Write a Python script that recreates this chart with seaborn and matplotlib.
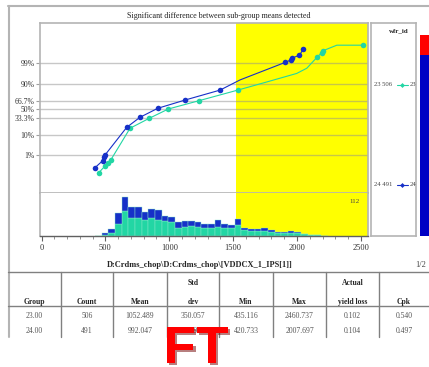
import math

import matplotlib

matplotlib.use("Agg")
import matplotlib.patheffects as pe
import matplotlib.pyplot as plt
import numpy as np
import pandas as pd
import seaborn as sns
from matplotlib.ticker import FixedLocator, MultipleLocator, NullLocator


W, H = 429, 367

TITLE = "Significant difference between sub-group means detected"
X_LABEL = "D:Crdms_chop\\D:Crdms_chop\\[VDDCX_1_IPS[1]]"
PAGE = "1/2"
GROUPS = ["23", "24"]
GROUP_COUNTS = [506, 491]
COLORS = {"23": "#22d6a4", "24": "#1630c8"}

# normal probability plot (value, cumulative %)
VALUES_23 = [450, 497, 521, 542, 693, 844, 993, 1233, 1539, 1735, 1998, 2077, 2160, 2194, 2207, 2312, 2520]
PCT_23 = [0.07, 0.21, 0.35, 0.52, 16.9, 32.5, 50.6, 66.8, 83.5, 90.8, 96.5, 98.1, 99.6, 99.79, 99.85, 99.94, 99.94]
MARK_23 = [1, 1, 1, 1, 1, 1, 1, 1, 1, 0, 0, 0, 1, 1, 1, 0, 1]

VALUES_24 = [419, 479, 489, 497, 667, 771, 910, 1124, 1398, 1554, 1685, 1790, 1906, 1951, 1959, 2019, 2050]
PCT_24 = [0.16, 0.47, 0.84, 1.04, 18.1, 34.3, 52.0, 68.0, 83.4, 93.1, 96.5, 98.1, 99.1, 99.36, 99.5, 99.69, 99.88]
MARK_24 = [1, 1, 1, 1, 1, 1, 1, 1, 1, 0, 0, 0, 1, 1, 1, 1, 1]

PROB_TICKS = [1, 10, 33.3, 50, 66.7, 90, 99]
PROB_LABELS = ["1%", "10%", "33.3%", "50%", "66.7%", "90%", "99%"]

# histogram, bins of 52 starting at 420
BIN_START = 420
BIN_WIDTH = 52
COUNTS_23 = [0, 2, 7, 26, 57, 41, 40, 37, 40, 36, 34, 32, 19, 21, 23, 21, 18, 17,
             21, 17, 17, 25, 13, 11, 11, 12, 9, 7, 6, 6, 6, 5, 3, 3, 1]
COUNTS_24 = [1, 5, 9, 27, 31, 25, 25, 18, 22, 23, 11, 10, 12, 13, 11, 11, 9, 10,
             14, 10, 8, 13, 5, 5, 4, 6, 4, 2, 2, 5, 2, 0, 0, 0, 0]
SPEC_START = 1520
SPEC_LABEL = "112"

YIELD_SHARES = [0.9, 0.1]
YIELD_COLORS = ["#0000c4", "#ff0000"]

TABLE_HEADERS = ["Group", "Count", "Mean", "Std\ndev", "Min", "Max", "Actual\nyield loss", "Cpk"]
ROW_23 = ["23.00", "506", "1052.489", "350.057", "435.116", "2460.737", "0.102", "0.540"]
ROW_24 = ["24.00", "491", "992.047", "343.912", "420.733", "2007.697", "0.104", "0.497"]
COL_EDGES = [8, 61, 113, 167, 219, 273, 326, 379, 429]

STAMP = "FT"


def norm_ppf(pct):
    p = np.clip(np.asarray(pct, dtype=float) / 100.0, 1e-12, 1 - 1e-12)
    a = [-3.969683028665376e01, 2.209460984245205e02, -2.759285104469687e02,
         1.383577518672690e02, -3.066479806614716e01, 2.506628277459239e00]
    b = [-5.447609879822406e01, 1.615858368580409e02, -1.556989798598866e02,
         6.680131188771972e01, -1.328068155288572e01]
    c = [-7.784894002430293e-03, -3.223964580411365e-01, -2.400758277161838e00,
         -2.549671070381386e00, 4.374664141464968e00, 2.938163982698783e00]
    d = [7.784695709041462e-03, 3.224671290700398e-01, 2.445134137142996e00,
         3.754408661907416e00]

    def tail(q):
        num = ((((c[0] * q + c[1]) * q + c[2]) * q + c[3]) * q + c[4]) * q + c[5]
        den = (((d[0] * q + d[1]) * q + d[2]) * q + d[3]) * q + 1
        return num / den

    q = p - 0.5
    r = q * q
    central = ((((((a[0] * r + a[1]) * r + a[2]) * r + a[3]) * r + a[4]) * r + a[5]) * q
               / (((((b[0] * r + b[1]) * r + b[2]) * r + b[3]) * r + b[4]) * r + 1))
    low = tail(np.sqrt(-2 * np.log(p)))
    high = -tail(np.sqrt(-2 * np.log(1 - p)))
    return np.where(p < 0.02425, low, np.where(p > 1 - 0.02425, high, central))


_erf = np.vectorize(math.erf)


def norm_cdf(z):
    return 50.0 * (1.0 + _erf(np.asarray(z, dtype=float) / math.sqrt(2.0)))


def box(x0, y0, x1, y1):
    return [x0 / W, 1 - y1 / H, (x1 - x0) / W, (y1 - y0) / H]


def main() -> None:
    sns.set_style("white")
    plt.rcParams["font.family"] = ["Liberation Serif", "DejaVu Serif"]

    fig = plt.figure(figsize=(W / 100, H / 100), dpi=100)
    frame = "#b4b4b4"

    # background layer in pixel coordinates: frames, title, table
    bg = fig.add_axes([0, 0, 1, 1], zorder=0)
    bg.set_xlim(0, W)
    bg.set_ylim(H, 0)
    bg.axis("off")
    bg.plot([8.5, 8.5], [6, 337], color=frame, lw=1.5)
    bg.plot([8, W], [6, 6], color=frame, lw=1.5)
    bg.plot([8, W], [271.5, 271.5], color="#808080", lw=1)
    bg.plot([8, W], [306, 306], color="#808080", lw=1)
    for x in COL_EDGES[1:-1]:
        bg.plot([x, x], [271.5, 337], color="#808080", lw=1)
    bg.text(219, 16, TITLE, fontsize=5.8, color="#222222", ha="center", va="center")
    bg.text(200, 265, X_LABEL, fontsize=6, fontweight="bold", ha="center", va="center")
    bg.text(421, 265, PAGE, fontsize=6, color="#444444", ha="center", va="center")

    centers = [(COL_EDGES[i] + COL_EDGES[i + 1]) / 2 for i in range(len(COL_EDGES) - 1)]
    for cx, header in zip(centers, TABLE_HEADERS):
        lines = header.split("\n")
        for k, line in enumerate(reversed(lines)):
            bg.text(cx, 301.5 - 18.5 * k, line, fontsize=5.5, fontweight="bold",
                    ha="center", va="center")
    for y, row in [(316, ROW_23), (331, ROW_24)]:
        for cx, val in zip(centers, row):
            bg.text(cx, y, val, fontsize=5.5, color="#555555", ha="center", va="center")

    bg.text(196, 363, STAMP, fontsize=38, fontweight="bold", family="Liberation Sans",
            color="#ff0000", ha="center", va="baseline", zorder=5,
            path_effects=[pe.SimplePatchShadow(offset=(1.5, -1.5), shadow_rgbFace="#700000",
                                               alpha=0.5), pe.Normal()])

    xlim = (-12, 2556)

    # probability plot
    ax = fig.add_axes(box(40, 23, 368, 193), zorder=1)
    ax.set_yscale("function", functions=(norm_ppf, norm_cdf))
    ax.set_xlim(*xlim)
    ax.set_ylim(norm_cdf(-4.23), norm_cdf(4.36))
    ax.axvspan(SPEC_START, xlim[1], color="#ffff00", zorder=0, lw=0)
    ax.yaxis.set_major_locator(FixedLocator(PROB_TICKS))
    ax.yaxis.set_minor_locator(NullLocator())
    ax.set_yticklabels(PROB_LABELS)
    ax.set_axisbelow(True)
    ax.grid(axis="y", color="#909090", alpha=0.5, lw=1)
    ax.tick_params(axis="y", length=3, width=0.8, color="#a0a0a0", labelsize=5.5,
                   labelcolor="#333333", pad=1, left=True)
    ax.tick_params(axis="x", bottom=False, labelbottom=False)
    for side in ["left", "top", "right", "bottom"]:
        ax.spines[side].set_color(frame)
        ax.spines[side].set_linewidth(1.2)

    for g, xs, ps, marks in [("23", VALUES_23, PCT_23, MARK_23), ("24", VALUES_24, PCT_24, MARK_24)]:
        xs = np.array(xs)
        ps = np.array(ps)
        m = np.array(marks, dtype=bool)
        sns.lineplot(x=xs, y=ps, sort=False, estimator=None, color=COLORS[g], lw=0.8, ax=ax)
        sns.scatterplot(x=xs[m], y=ps[m], color=COLORS[g], s=16, linewidth=0, ax=ax, zorder=3)
    ax.set_xlabel("")
    ax.set_ylabel("")

    # histogram
    axh = fig.add_axes(box(40, 193, 368, 236), zorder=1)
    n_bins = len(COUNTS_23)
    mids = BIN_START + BIN_WIDTH * (np.arange(n_bins) + 0.5)
    hist = pd.DataFrame({
        "value": np.concatenate([mids, mids]),
        "count": COUNTS_23 + COUNTS_24,
        "group": ["23"] * n_bins + ["24"] * n_bins,
    })
    axh.axvspan(SPEC_START, xlim[1], color="#ffff00", zorder=0, lw=0)
    sns.histplot(data=hist, x="value", weights="count", hue="group", hue_order=["24", "23"],
                 multiple="stack", binwidth=BIN_WIDTH,
                 binrange=(BIN_START, BIN_START + BIN_WIDTH * n_bins),
                 palette=COLORS, alpha=1, edgecolor="#8de8cc",
                 linewidth=0.3, legend=False, ax=axh)
    axh.set_xlim(*xlim)
    axh.set_ylim(0, 97)
    axh.set_xlabel("")
    axh.set_ylabel("")
    axh.set_yticks([])
    axh.xaxis.set_major_locator(FixedLocator([0, 500, 1000, 1500, 2000, 2500]))
    axh.xaxis.set_minor_locator(MultipleLocator(100))
    axh.tick_params(axis="x", which="major", length=3.5, width=0.8, color="#606060",
                    labelsize=6, labelcolor="#333333", pad=2, bottom=True)
    axh.tick_params(axis="x", which="minor", length=2, width=0.6, color="#808080", bottom=True)
    axh.spines["top"].set_visible(False)
    axh.spines["left"].set_color(frame)
    axh.spines["left"].set_linewidth(1.2)
    axh.spines["right"].set_color(frame)
    axh.spines["right"].set_linewidth(1.2)
    axh.spines["bottom"].set_color("#606060")
    axh.spines["bottom"].set_linewidth(1)
    axh.text(0.975, 0.8, SPEC_LABEL, transform=axh.transAxes, fontsize=5, color="#444444",
             ha="right", va="center")

    # legend panel (pixel coordinates)
    axl = fig.add_axes(box(371, 23, 416, 236), zorder=1)
    axl.set_xlim(371, 416)
    axl.set_ylim(236, 23)
    axl.set_xticks([])
    axl.set_yticks([])
    for side in axl.spines.values():
        side.set_color(frame)
        side.set_linewidth(1.2)
    axl.text(399, 31, "wfr_id", fontsize=5, fontweight="bold", ha="center", va="center")
    for y, g, n in zip([85, 185], GROUPS, GROUP_COUNTS):
        axl.text(374, y, f"{g} {n}", fontsize=4.8, color="#444444", ha="left", va="center")
        axl.plot([397, 408], [y, y], color=COLORS[g], lw=0.8)
        axl.plot([402.5], [y], marker="D", ms=2.5, color=COLORS[g], mec="none")
        axl.text(409.5, y, g, fontsize=4.8, color="#444444", ha="left", va="center")

    # yield bar on the right edge
    axb = fig.add_axes(box(420, 35, 429, 236), zorder=1)
    bottom = 0.0
    for share, col in zip(YIELD_SHARES, YIELD_COLORS):
        axb.bar([0], [share], bottom=bottom, width=1, color=col, lw=0)
        bottom += share
    axb.set_xlim(-0.5, 0.5)
    axb.set_ylim(0, 1)
    axb.axis("off")

    fig.savefig("out.png", dpi=100)
    plt.close(fig)


if __name__ == "__main__":
    main()
